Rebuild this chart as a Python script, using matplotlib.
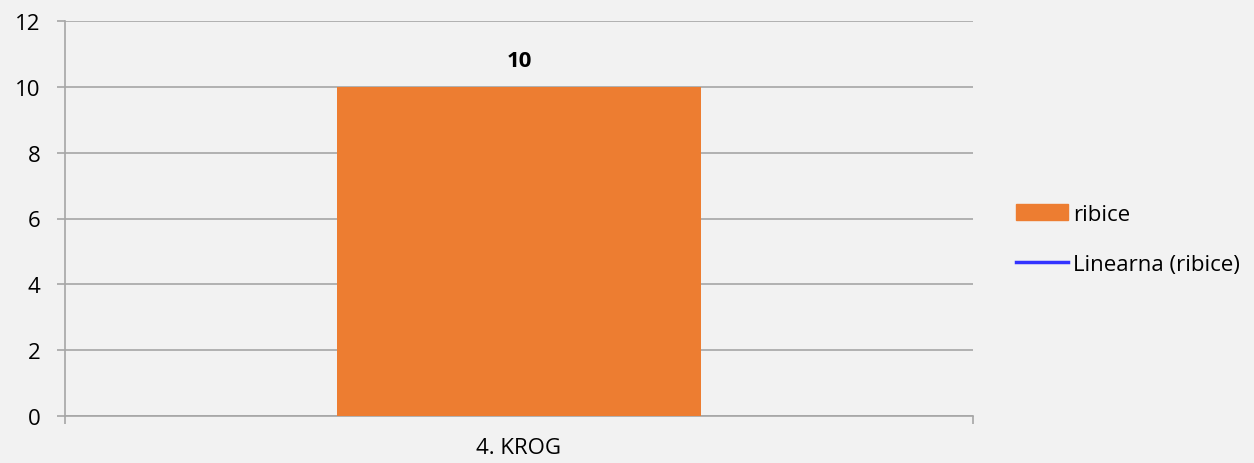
import matplotlib.pyplot as plt
from matplotlib.lines import Line2D
from matplotlib.patches import Patch

categories = ["4. KROG"]
ribice = [10]
yticks = [0, 2, 4, 6, 8, 10, 12]

bg = "#F2F2F2"
orange = "#ED7D31"
grid_col = "#A6A6A6"
fs = 16

plt.rcParams['font.family'] = ['Open Sans', 'DejaVu Sans']

fig = plt.figure(figsize=(12.54, 4.64), dpi=100, facecolor=bg)
ax = fig.add_axes([65/1254, 47/464, 908/1254, 395/464])
ax.set_facecolor(bg)

x = list(range(len(categories)))
bars = ax.bar(x, ribice, width=0.4, color=orange, zorder=3)
for b, v in zip(bars, ribice):
    ax.annotate(str(v), (b.get_x() + b.get_width() / 2, v), xytext=(0, 16),
                textcoords="offset pixels", ha="center", va="bottom",
                fontsize=fs, fontweight="bold")

ax.set_xlim(-0.5, len(categories) - 0.5)
ax.set_ylim(0, 12)
ax.set_yticks(yticks)
ax.set_yticklabels([str(t) for t in yticks], fontsize=fs)
ax.yaxis.grid(True, color=grid_col, linewidth=1.2, zorder=0)
ax.tick_params(axis="y", length=5.8, color=grid_col, width=1.2, pad=12)

# category boundaries as major ticks, labels as minor ticks
ax.set_xticks([-0.5, len(categories) - 0.5])
ax.set_xticklabels([])
ax.set_xticks(x, minor=True)
ax.set_xticklabels(categories, minor=True, fontsize=fs)
ax.tick_params(axis="x", which="major", length=5.8, color=grid_col, width=1.2)
ax.tick_params(axis="x", which="minor", length=0, pad=15)

for s in ["top", "right"]:
    ax.spines[s].set_visible(False)
for s in ["left", "bottom"]:
    ax.spines[s].set_color(grid_col)
    ax.spines[s].set_linewidth(1.2)

handles = [Patch(color=orange, label="ribice"),
           Line2D([0], [0], color="#3333FF", linewidth=2.5, label="Linearna (ribice)")]
fig.legend(handles=handles, loc="center left", bbox_to_anchor=(996/1254, 0.482),
           frameon=False, fontsize=fs, handlelength=2.35, handleheight=0.7,
           handletextpad=0.2, labelspacing=1.3)

fig.savefig("out.png", dpi=100, facecolor=bg)
